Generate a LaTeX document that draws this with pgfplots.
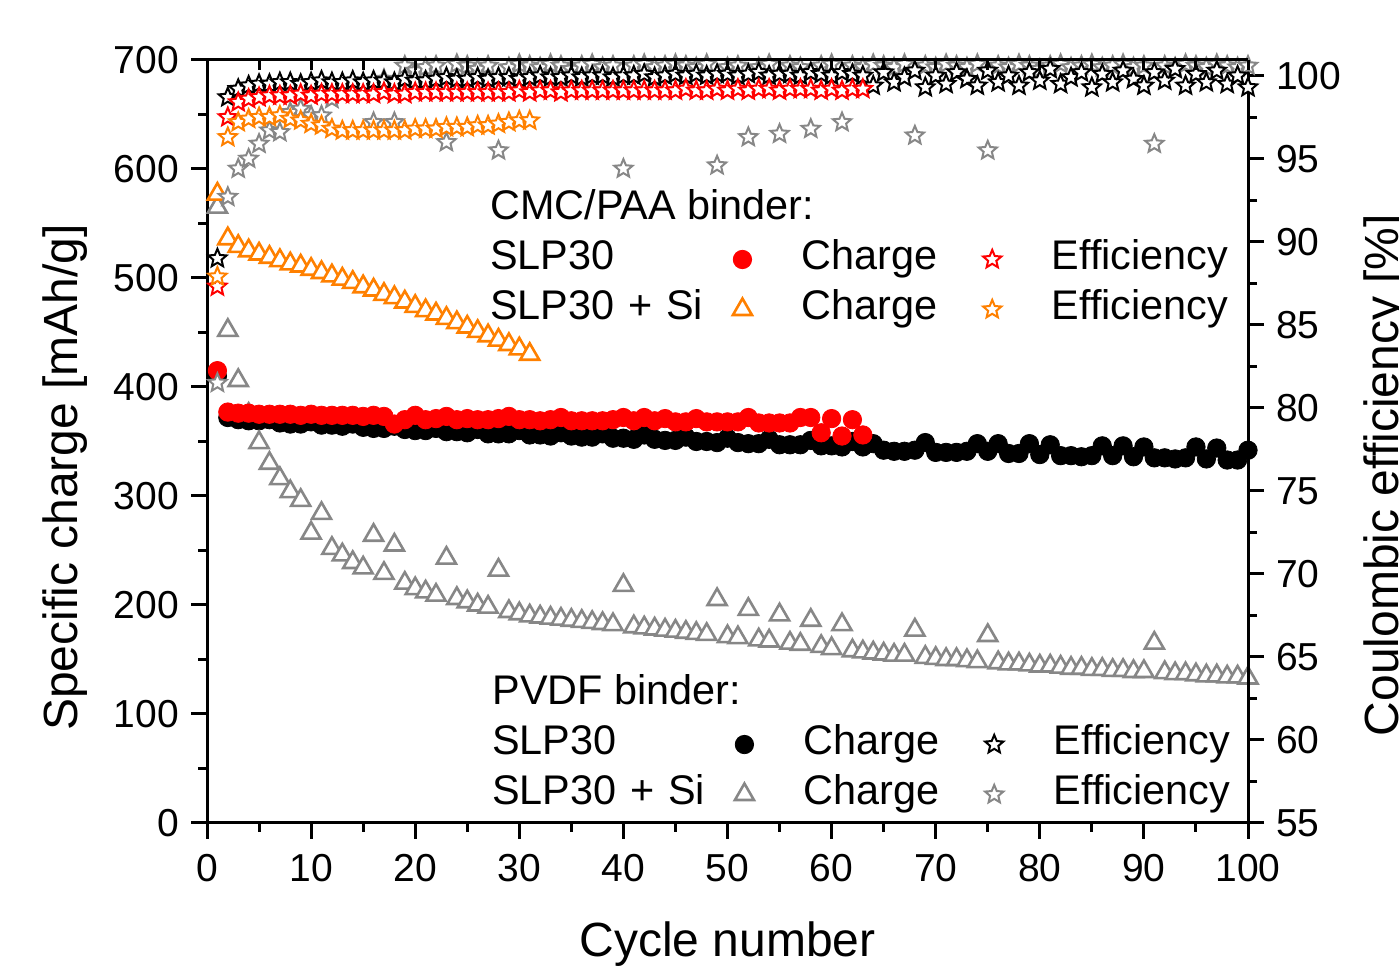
\documentclass[border=0pt]{standalone}
\usepackage{pgfplots}
\pgfplotsset{compat=1.18}
\usepackage{fontspec}
\setmainfont{Liberation Sans}

\definecolor{cred}{RGB}{255,0,0}
\definecolor{corange}{RGB}{255,128,0}
\definecolor{cgray}{RGB}{135,135,135}

% outlined five-pointed star
\pgfdeclareplotmark{ostar}{%
  \pgfpathmoveto{\pgfqpointpolar{90}{\pgfplotmarksize}}%
  \pgfpathlineto{\pgfqpointpolar{126}{0.45\pgfplotmarksize}}%
  \pgfpathlineto{\pgfqpointpolar{162}{\pgfplotmarksize}}%
  \pgfpathlineto{\pgfqpointpolar{198}{0.45\pgfplotmarksize}}%
  \pgfpathlineto{\pgfqpointpolar{234}{\pgfplotmarksize}}%
  \pgfpathlineto{\pgfqpointpolar{270}{0.45\pgfplotmarksize}}%
  \pgfpathlineto{\pgfqpointpolar{306}{\pgfplotmarksize}}%
  \pgfpathlineto{\pgfqpointpolar{342}{0.45\pgfplotmarksize}}%
  \pgfpathlineto{\pgfqpointpolar{18}{\pgfplotmarksize}}%
  \pgfpathlineto{\pgfqpointpolar{54}{0.45\pgfplotmarksize}}%
  \pgfpathclose
  \pgfusepathqfillstroke}

\tikzset{header/.style={anchor=base west, inner sep=0pt, font=\fontsize{20.7}{24}\selectfont}}

\pgfplotsset{
  base/.style={width=520.5pt, height=381.5pt, scale only axis, xmin=0, xmax=100,
    axis line style={line width=1.5pt},
    every tick/.append style={line width=1.5pt, black},
    major tick length=8pt, minor tick length=4.5pt,
    tick label style={font=\fontsize{19.5}{23}\selectfont},
    label style={font=\fontsize{24}{29}\selectfont},
    /pgf/number format/assume math mode=true,
    clip mode=individual},
  leg/.style={legend columns=3, legend cell align=left,
    legend style={anchor=north west, draw=none, fill=none, inner sep=0pt, outer sep=0pt,
      column sep=0pt, row sep=4.5pt, font=\fontsize{20.7}{24}\selectfont,
      nodes={inner sep=0pt, text height=15.4pt, text depth=5.1pt}},
    legend image code/.code={\draw[##1] plot coordinates {(0pt,0pt)}; \path (-10pt,0pt) (29.5pt,0pt);}},
  mdot/.style={mark=*, mark size=4.6pt, mark options={draw=#1, fill=#1, line width=0.4pt}},
  mtri/.style={mark=triangle*, mark size=5.5pt, mark options={draw=#1, fill=white, line width=1.3pt}},
  mstar/.style={mark=ostar, mark size=4.8pt, mark options={draw=#1, fill=white, line width=1pt}},
}

\begin{document}
\begin{tikzpicture}
% left axis: specific charge
\begin{axis}[base, ymin=0, ymax=700,
  axis x line*=bottom, axis y line*=left, tick align=outside,
  xtick distance=10, minor x tick num=1, ytick distance=100, minor y tick num=1,
  xticklabel style={yshift=-4pt}, yticklabel style={xshift=-2.5pt},
  xlabel={Cycle number}, ylabel={Specific charge [mAh/g]},
  xlabel style={at={(axis description cs:0.5,-0.1756)}, anchor=base, inner sep=0pt},
  ylabel style={at={(axis description cs:-0.1585,0.453)}, anchor=north, inner sep=0pt},
  leg, legend style={at={(rel axis cs:0.2738,0.1297)}}]

% PVDF, SLP30: charge
\addplot[only marks, mdot=black, forget plot] coordinates {
(1,410) (2,372) (3,370) (4,369) (5,369) (6,370) (7,367) (8,366) (9,366) (10,368)
(11,365) (12,365) (13,364) (14,366) (15,363) (16,362) (17,362) (18,364) (19,361) (20,360)
(21,360) (22,362) (23,359) (24,359) (25,358) (26,361) (27,357) (28,357) (29,357) (30,360)
(31,356) (32,356) (33,355) (34,358) (35,355) (36,354) (37,354) (38,357) (39,353) (40,353)
(41,352) (42,356) (43,352) (44,351) (45,351) (46,354) (47,350) (48,350) (49,349) (50,353)
(51,349) (52,348) (53,348) (54,352) (55,347) (56,347) (57,347) (58,351) (59,346) (60,346)
(61,345) (62,350) (63,345) (64,348) (65,342) (66,341) (67,341) (68,342) (69,349) (70,340)
(71,340) (72,340) (73,341) (74,348) (75,341) (76,348) (77,339) (78,339) (79,348) (80,338)
(81,347) (82,337) (83,337) (84,336) (85,337) (86,346) (87,337) (88,346) (89,336) (90,345)
(91,335) (92,335) (93,334) (94,335) (95,345) (96,334) (97,344) (98,333) (99,333) (100,342)};

% PVDF, SLP30 + Si: charge
\addplot[only marks, mtri=cgray, forget plot] coordinates {
(1,565) (2,452) (3,406) (4,375) (5,349) (6,330) (7,316) (8,304) (9,296) (10,266)
(11,284) (12,252) (13,246) (14,239) (15,234) (16,264) (17,229) (18,255) (19,220) (20,215)
(21,212) (22,209) (23,243) (24,206) (25,203) (26,200) (27,198) (28,232) (29,194) (30,192)
(31,190) (32,189) (33,188) (34,187) (35,186) (36,185) (37,184) (38,183) (39,182) (40,218)
(41,180) (42,179) (43,178) (44,177) (45,176) (46,175) (47,174) (48,173) (49,205) (50,171)
(51,170) (52,196) (53,168) (54,167) (55,191) (56,165) (57,164) (58,186) (59,162) (60,160)
(61,182) (62,158) (63,157) (64,156) (65,155) (66,154) (67,154) (68,177) (69,152) (70,151)
(71,150) (72,150) (73,149) (74,148) (75,172) (76,147) (77,146) (78,146) (79,145) (80,144)
(81,144) (82,143) (83,142) (84,142) (85,141) (86,141) (87,140) (88,140) (89,139) (90,139)
(91,165) (92,138) (93,137) (94,137) (95,136) (96,135) (97,135) (98,134) (99,134) (100,133)};

% CMC/PAA, SLP30: charge
\addplot[only marks, mdot=cred, forget plot] coordinates {
(1,415) (2,377) (3,376) (4,376) (5,375) (6,375) (7,375) (8,375) (9,374) (10,375)
(11,374) (12,374) (13,374) (14,374) (15,373) (16,374) (17,373) (18,366) (19,370) (20,374)
(21,370) (22,371) (23,373) (24,370) (25,371) (26,370) (27,370) (28,371) (29,373) (30,370)
(31,370) (32,369) (33,370) (34,372) (35,369) (36,369) (37,369) (38,369) (39,370) (40,372)
(41,369) (42,372) (43,369) (44,371) (45,368) (46,368) (47,371) (48,368) (49,368) (50,368)
(51,368) (52,372) (53,367) (54,367) (55,367) (56,367) (57,372) (58,372) (59,358) (60,371)
(61,355) (62,370) (63,356)};

% CMC/PAA, SLP30 + Si: charge
\addplot[only marks, mtri=corange, forget plot] coordinates {
(1,577) (2,536) (3,529) (4,525) (5,522) (6,519) (7,516) (8,513) (9,511) (10,508)
(11,505) (12,502) (13,499) (14,496) (15,492) (16,489) (17,485) (18,482) (19,478) (20,474)
(21,470) (22,467) (23,463) (24,459) (25,455) (26,451) (27,447) (28,443) (29,439) (30,435)
(31,430)};

\addlegendimage{empty legend}\addlegendentry[text width=116pt]{SLP30}
\addlegendimage{mdot=black}\addlegendentry[text width=85pt]{Charge}
\addlegendimage{mstar=black}\addlegendentry{Efficiency}
\addlegendimage{empty legend}\addlegendentry[text width=116pt]{SLP30 + Si}
\addlegendimage{mtri=cgray}\addlegendentry[text width=85pt]{Charge}
\addlegendimage{mstar=cgray}\addlegendentry{Efficiency}

\node[header] at (rel axis cs:0.2738,0.1547) {PVDF binder:};
\coordinate (bl) at (rel axis cs:-0.19885,-0.19659);
\coordinate (tr) at (rel axis cs:1.14505,1.07864);
\end{axis}

% right axis: coulombic efficiency
\begin{axis}[base, ymin=55, ymax=100.95,
  axis y line*=right, axis x line=none, tick align=outside,
  ytick distance=5, minor y tick num=1, yticklabel style={xshift=2.5pt},
  ylabel={Coulombic efficiency [\%]},
  ylabel style={at={(axis description cs:1.1105,0.456)}, anchor=north, inner sep=0pt},
  leg, legend style={at={(rel axis cs:0.2719,0.7654)}}]

% PVDF, SLP30 + Si: efficiency
\addplot[only marks, mstar=cgray, forget plot] coordinates {
(1,81.5) (2,92.7) (3,94.4) (4,95.0) (5,95.9) (6,96.7) (7,96.6) (8,97.8) (9,98.0) (10,97.6)
(11,97.6) (12,98.6) (13,99.0) (14,99.3) (15,99.5) (16,97.2) (17,99.8) (18,97.2) (19,100.6) (20,100.3)
(21,100.5) (22,100.6) (23,96.0) (24,100.7) (25,100.6) (26,100.4) (27,100.6) (28,95.5) (29,100.5) (30,100.7)
(31,100.6) (32,100.5) (33,100.7) (34,100.6) (35,100.4) (36,100.6) (37,100.7) (38,100.5) (39,100.6) (40,94.4)
(41,100.6) (42,100.7) (43,100.5) (44,100.6) (45,100.7) (46,100.6) (47,100.5) (48,100.7) (49,94.6) (50,100.5)
(51,100.6) (52,96.3) (53,100.5) (54,100.7) (55,96.5) (56,100.6) (57,100.5) (58,96.8) (59,100.6) (60,100.7)
(61,97.2) (62,100.6) (63,100.5) (64,100.7) (65,100.6) (66,100.5) (67,100.7) (68,96.4) (69,100.6) (70,100.5)
(71,100.7) (72,100.6) (73,100.5) (74,100.7) (75,95.5) (76,100.6) (77,100.5) (78,100.7) (79,100.6) (80,100.4)
(81,100.6) (82,100.7) (83,100.5) (84,100.6) (85,100.7) (86,100.5) (87,100.6) (88,100.7) (89,100.5) (90,100.6)
(91,95.9) (92,100.6) (93,100.5) (94,100.7) (95,100.6) (96,100.5) (97,100.7) (98,100.6) (99,100.5) (100,100.6)};

% PVDF, SLP30: efficiency
\addplot[only marks, mstar=black, forget plot] coordinates {
(1,89.0) (2,98.7) (3,99.2) (4,99.4) (5,99.5) (6,99.5) (7,99.6) (8,99.6) (9,99.5) (10,99.6)
(11,99.7) (12,99.6) (13,99.6) (14,99.7) (15,99.6) (16,99.7) (17,99.7) (18,99.6) (19,99.8) (20,99.7)
(21,99.7) (22,99.8) (23,99.9) (24,99.8) (25,99.8) (26,99.9) (27,99.8) (28,99.9) (29,99.9) (30,99.8)
(31,99.9) (32,100.0) (33,99.9) (34,99.9) (35,100.0) (36,99.9) (37,100.0) (38,100.0) (39,99.9) (40,100.0)
(41,100.0) (42,100.1) (43,99.9) (44,100.0) (45,100.1) (46,100.0) (47,100.1) (48,100.0) (49,100.1) (50,100.1)
(51,100.0) (52,100.1) (53,100.2) (54,100.0) (55,100.1) (56,100.1) (57,100.0) (58,100.2) (59,100.1) (60,100.0)
(61,100.2) (62,100.1) (63,100.0) (64,99.4) (65,100.2) (66,99.6) (67,99.9) (68,100.3) (69,99.3) (70,100.0)
(71,99.5) (72,100.2) (73,99.8) (74,99.4) (75,100.3) (76,99.6) (77,100.0) (78,99.4) (79,100.2) (80,99.7)
(81,100.4) (82,99.5) (83,99.9) (84,100.2) (85,99.3) (86,100.1) (87,99.6) (88,100.3) (89,99.8) (90,99.4)
(91,100.2) (92,99.7) (93,100.4) (94,99.4) (95,100.1) (96,99.6) (97,100.3) (98,99.5) (99,100.0) (100,99.3)};

% CMC/PAA, SLP30: efficiency
\addplot[only marks, mstar=cred, forget plot] coordinates {
(1,87.3) (2,97.5) (3,98.4) (4,98.6) (5,98.7) (6,98.8) (7,98.8) (8,98.8) (9,98.9) (10,98.8)
(11,98.9) (12,98.9) (13,98.9) (14,98.9) (15,98.9) (16,98.9) (17,99.0) (18,98.9) (19,98.9) (20,99.0)
(21,99.0) (22,99.0) (23,99.0) (24,99.0) (25,99.0) (26,99.0) (27,99.0) (28,99.0) (29,99.0) (30,99.1)
(31,99.0) (32,99.1) (33,99.1) (34,99.0) (35,99.1) (36,99.1) (37,99.1) (38,99.1) (39,99.1) (40,99.1)
(41,99.1) (42,99.1) (43,99.1) (44,99.1) (45,99.1) (46,99.2) (47,99.1) (48,99.1) (49,99.2) (50,99.1)
(51,99.2) (52,99.1) (53,99.2) (54,99.2) (55,99.1) (56,99.2) (57,99.2) (58,99.2) (59,99.1) (60,99.2)
(61,99.1) (62,99.2) (63,99.2)};

% CMC/PAA, SLP30 + Si: efficiency
\addplot[only marks, mstar=corange, forget plot] coordinates {
(1,87.9) (2,96.3) (3,97.2) (4,97.4) (5,97.5) (6,97.5) (7,97.6) (8,97.4) (9,97.3) (10,97.1)
(11,97.0) (12,96.8) (13,96.7) (14,96.7) (15,96.7) (16,96.7) (17,96.7) (18,96.7) (19,96.7) (20,96.8)
(21,96.8) (22,96.8) (23,96.9) (24,96.9) (25,96.9) (26,97.0) (27,97.0) (28,97.1) (29,97.2) (30,97.3)
(31,97.3)};

\addlegendimage{empty legend}\addlegendentry[text width=116pt]{SLP30}
\addlegendimage{mdot=cred}\addlegendentry[text width=85pt]{Charge}
\addlegendimage{mstar=cred}\addlegendentry{Efficiency}
\addlegendimage{empty legend}\addlegendentry[text width=116pt]{SLP30 + Si}
\addlegendimage{mtri=corange}\addlegendentry[text width=85pt]{Charge}
\addlegendimage{mstar=corange}\addlegendentry{Efficiency}

\node[header] at (rel axis cs:0.2719,0.7903) {CMC/PAA binder:};
\end{axis}

% top frame with inward ticks
\begin{axis}[base, ymin=0, ymax=1, axis x line*=top, axis y line=none,
  tick align=inside, xtick distance=5, xticklabels={}, major tick length=5pt, ytick=\empty]
\end{axis}

\pgfresetboundingbox
\useasboundingbox (bl) rectangle (tr);
\end{tikzpicture}
\end{document}
